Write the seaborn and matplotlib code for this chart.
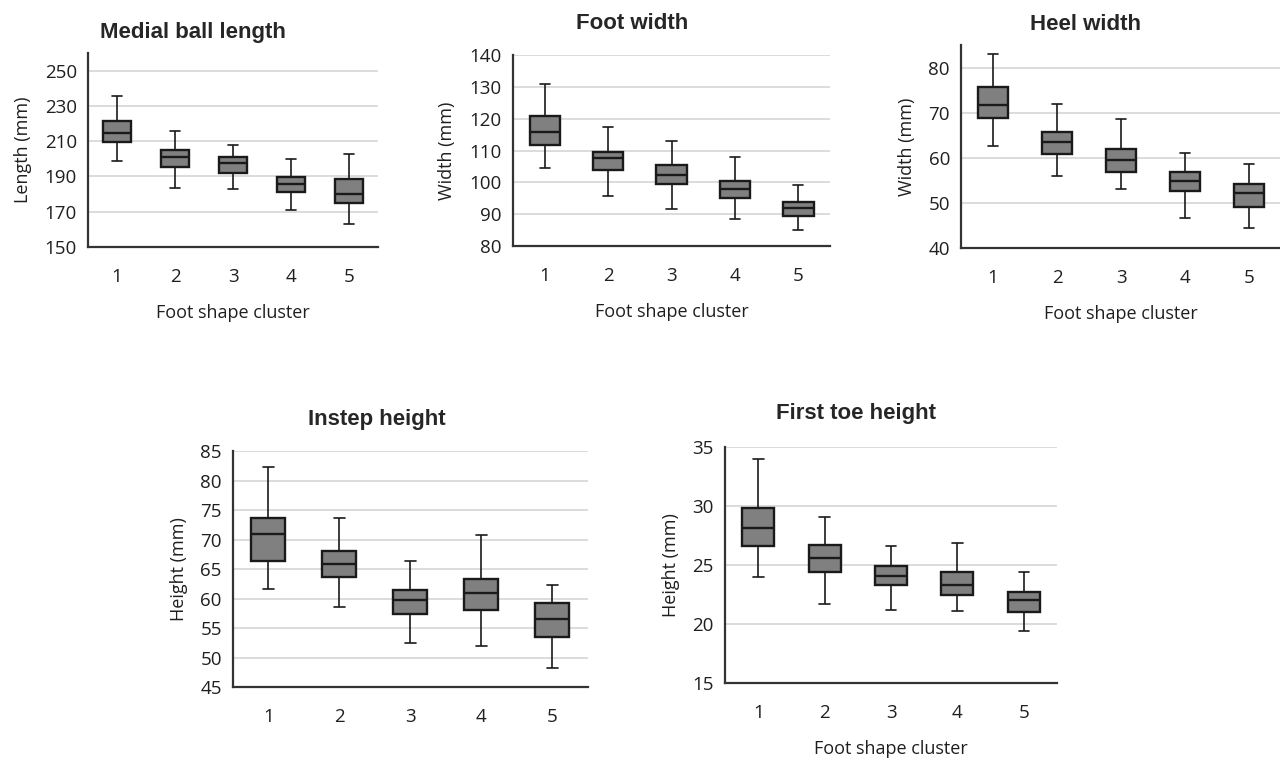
import numpy as np
import pandas as pd
import matplotlib
matplotlib.use("Agg")
import matplotlib.pyplot as plt
import seaborn as sns

clusters = [1, 2, 3, 4, 5]

# five-number summaries: lower whisker, Q1, median, Q3, upper whisker
medial_lo = [198.5, 183.6, 183.0, 170.8, 163.2]
medial_q1 = [209.4, 195.3, 191.7, 181.3, 175.1]
medial_med = [214.5, 200.9, 197.5, 186.0, 180.0]
medial_q3 = [221.5, 205.3, 201.1, 189.6, 188.3]
medial_hi = [235.8, 216.0, 207.7, 199.8, 202.8]

foot_lo = [104.4, 95.8, 91.7, 88.4, 84.9]
foot_q1 = [111.8, 103.8, 99.6, 95.1, 89.4]
foot_med = [115.9, 107.5, 102.4, 98.0, 91.8]
foot_q3 = [121.0, 109.5, 105.4, 100.5, 93.9]
foot_hi = [130.8, 117.4, 113.0, 108.0, 99.3]

heel_lo = [62.7, 56.0, 53.0, 46.6, 44.5]
heel_q1 = [68.9, 60.9, 56.9, 52.6, 49.1]
heel_med = [71.7, 63.6, 59.4, 54.9, 52.3]
heel_q3 = [75.7, 65.8, 62.0, 56.8, 54.1]
heel_hi = [82.9, 72.0, 68.5, 61.1, 58.6]

instep_lo = [61.6, 58.6, 52.4, 52.0, 48.3]
instep_q1 = [66.3, 63.6, 57.4, 58.1, 53.4]
instep_med = [71.0, 65.8, 59.7, 61.0, 56.6]
instep_q3 = [73.6, 68.1, 61.5, 63.3, 59.2]
instep_hi = [82.3, 73.6, 66.4, 70.7, 62.3]

toe_lo = [24.0, 21.7, 21.2, 21.1, 19.4]
toe_q1 = [26.6, 24.4, 23.3, 22.5, 21.0]
toe_med = [28.1, 25.6, 24.1, 23.3, 22.0]
toe_q3 = [29.8, 26.7, 24.9, 24.4, 22.7]
toe_hi = [34.0, 29.1, 26.6, 26.9, 24.4]

sns.set_style("white")
plt.rcParams['font.family'] = ['Open Sans', 'DejaVu Sans']
title_font = ['Liberation Sans', 'DejaVu Sans']

fig = plt.figure(figsize=(12.8, 7.61), dpi=100)


def to_frame(lo, q1, med, q3, hi):
    rows = []
    for i, c in enumerate(clusters):
        for v in (lo[i], q1[i], med[i], q3[i], hi[i]):
            rows.append((str(c), v))
    return pd.DataFrame(rows, columns=['cluster', 'value'])


def panel(rect, stats, title, title_x, title_pad, ylabel, ylim, yticks, xlabel, ylabelpad):
    ax = fig.add_axes(rect)
    df = to_frame(*stats)
    sns.boxplot(data=df, x='cluster', y='value', ax=ax, whis=(0, 100),
                color='#808080', saturation=1, linecolor='#1a1a1a',
                width=0.48, fliersize=0, linewidth=1.7, capwidths=0.16,
                whiskerprops={'linewidth': 1.2}, capprops={'linewidth': 1.2})
    ax.set_ylim(*ylim)
    ax.set_xlim(-0.5, 4.5)
    ax.set_yticks(yticks)
    ax.yaxis.grid(True, color='#d9d9d9', linewidth=1.3)
    ax.set_axisbelow(True)
    for s in ['top', 'right']:
        ax.spines[s].set_visible(False)
    for s in ['left', 'bottom']:
        ax.spines[s].set_color('#333333')
        ax.spines[s].set_linewidth(1.6)
    ax.tick_params(axis='both', length=0, labelsize=13.5, colors='#1f1f1f')
    ax.tick_params(axis='x', pad=15)
    ax.tick_params(axis='y', pad=8)
    ax.set_ylabel(ylabel, fontsize=13, color='#1f1f1f', labelpad=ylabelpad)
    ax.set_xlabel(xlabel, fontsize=13, color='#1f1f1f', labelpad=13)
    ax.set_title(title, x=title_x, pad=title_pad, fontsize=16,
                 fontweight='bold', family=title_font)
    return ax


panel([0.0688, 0.6754, 0.2266, 0.2549],
      (medial_lo, medial_q1, medial_med, medial_q3, medial_hi),
      'Medial ball length', 0.362, 11, 'Length (mm)', (150, 260),
      [150, 170, 190, 210, 230, 250], 'Foot shape cluster', 9)
panel([0.4008, 0.6767, 0.2477, 0.2510],
      (foot_lo, foot_q1, foot_med, foot_q3, foot_hi),
      'Foot width', 0.375, 19, 'Width (mm)', (80, 140),
      [80, 90, 100, 110, 120, 130, 140], 'Foot shape cluster', 10)
panel([0.7508, 0.6741, 0.2500, 0.2668],
      (heel_lo, heel_q1, heel_med, heel_q3, heel_hi),
      'Heel width', 0.39, 11, 'Width (mm)', (40, 85),
      [40, 50, 60, 70, 80], 'Foot shape cluster', 9)
panel([0.1820, 0.0972, 0.2773, 0.3101],
      (instep_lo, instep_q1, instep_med, instep_q3, instep_hi),
      'Instep height', 0.405, 19, 'Height (mm)', (45, 85),
      [45, 50, 55, 60, 65, 70, 75, 80, 85], '', 9)
panel([0.5664, 0.1025, 0.2594, 0.3101],
      (toe_lo, toe_q1, toe_med, toe_q3, toe_hi),
      'First toe height', 0.395, 20, 'Height (mm)', (15, 35),
      [15, 20, 25, 30, 35], 'Foot shape cluster', 9)

fig.savefig('out.png', dpi=100)
